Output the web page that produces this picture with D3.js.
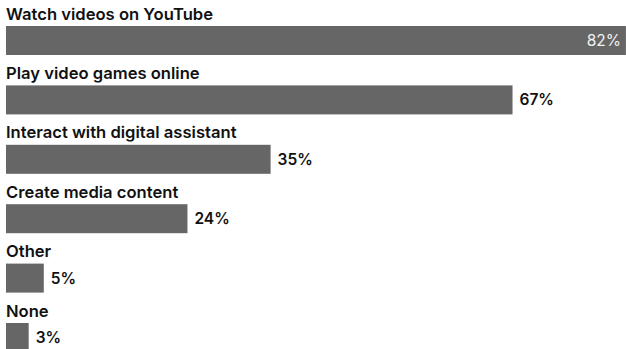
<!DOCTYPE html>
<html>
<head>
<meta charset="utf-8">
<script src="https://cdn.jsdelivr.net/npm/d3@7"></script>
<style>
  html, body { margin: 0; padding: 0; background: #fff; }
  svg { display: block; font-family: Inter, "Noto Sans", sans-serif; }
</style>
</head>
<body>
<svg id="chart" width="626" height="349"></svg>
<script>
const categories = [
  "Watch videos on YouTube",
  "Play video games online",
  "Interact with digital assistant",
  "Create media content",
  "Other",
  "None"
];
const values = [82, 67, 35, 24, 5, 3];

const width = 626, height = 349;
const svg = d3.select("#chart");

// one band per row: label on top, bar below
const y = d3.scaleBand()
  .domain(categories)
  .range([0, 59.4 * categories.length]);

const x = d3.scaleLinear()
  .domain([0, 100])
  .range([6, 762]);

const barTop = 26, barH = 29;

const rows = svg.selectAll("g.row")
  .data(categories.map((c, i) => ({ cat: c, value: values[i] })))
  .enter().append("g")
  .attr("class", "row")
  .attr("transform", d => `translate(0,${y(d.cat)})`);

rows.append("text")
  .attr("x", 6)
  .attr("y", 19.5)
  .attr("font-size", "16.6px")
  .attr("font-weight", 600)
  .attr("fill", "#111")
  .text(d => d.cat);

rows.append("rect")
  .attr("x", x(0))
  .attr("y", barTop)
  .attr("width", d => x(d.value) - x(0))
  .attr("height", barH)
  .attr("fill", "#666666");

// value labels: inside the bar if it is too long to fit outside
const inside = d => x(d.value) + 6 + 40 > width;
rows.append("text")
  .attr("y", barTop + barH / 2)
  .attr("dy", "0.36em")
  .attr("font-size", "15.5px")
  .attr("x", d => inside(d) ? x(d.value) - 5 : x(d.value) + 7)
  .attr("text-anchor", d => inside(d) ? "end" : "start")
  .attr("font-weight", d => inside(d) ? 400 : 600)
  .attr("fill", d => inside(d) ? "#f2f2f2" : "#111")
  .text(d => d.value + "%");
</script>
</body>
</html>
